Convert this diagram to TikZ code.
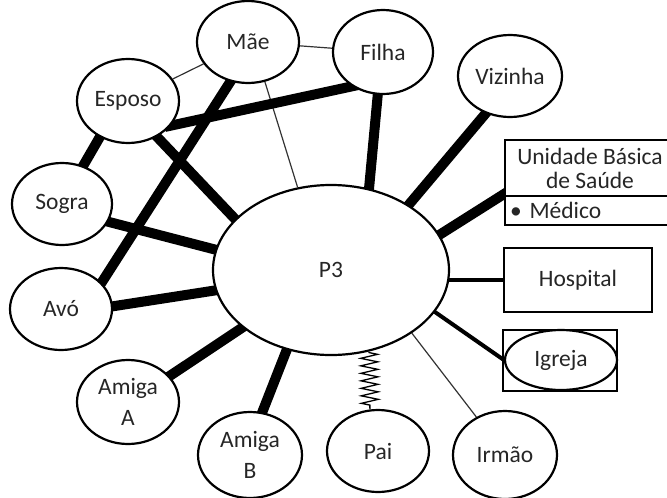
\documentclass[tikz,border=0pt]{standalone}
\usepackage{fontspec}
\setmainfont{Carlito}
\usetikzlibrary{shapes.geometric,decorations.pathmorphing,calc}
\pgfdeclarelayer{background}
\pgfsetlayers{background,main}
\begin{document}
\begin{tikzpicture}[x=1pt,y=-1pt,
  person/.style={ellipse,draw,line width=2.2pt,fill=white,inner sep=0pt,
    text=black!85,font=\fontsize{23.5}{31}\selectfont,align=center},
  place/.style={rectangle,draw,line width=2.2pt,fill=white,inner sep=0pt,
    text=black!85,font=\fontsize{23.5}{24}\selectfont,align=center},
  strong/.style={line width=10pt,shorten <=-6pt,shorten >=-6pt},
  medium/.style={line width=4pt,shorten <=-3pt,shorten >=-3pt},
  weak/.style={line width=1.2pt,draw=black!80},
  stress/.style={line width=1.3pt,decorate,
    decoration={zigzag,segment length=7.5pt,amplitude=8.5pt,pre length=1pt,post length=1pt}}]

\useasboundingbox (0,0) rectangle (667,498);

% people around the centre
\node[person,minimum width=236pt,minimum height=170pt] (p3) at (331,270) {P3};
\node[person,minimum width=102pt,minimum height=82pt] (mae) at (248,42) {Mãe};
\node[person,minimum width=100pt,minimum height=84pt] (filha) at (383,52) {Filha};
\node[person,minimum width=102pt,minimum height=84pt] (esposo) at (128,101) {Esposo};
\node[person,minimum width=104pt,minimum height=82pt] (vizinha) at (510,76) {Vizinha};
\node[person,minimum width=100pt,minimum height=82pt] (sogra) at (62,204) {Sogra};
\node[person,minimum width=102pt,minimum height=82pt] (avo) at (61,309) {Avó};
\node[person,minimum width=102pt,minimum height=84pt] (amigaA) at (128,402) {Amiga\\A};
\node[person,minimum width=104pt,minimum height=86pt] (amigaB) at (250,455) {Amiga\\B};
\node[person,minimum width=102pt,minimum height=82pt] (pai) at (378,451) {Pai};
\node[person,minimum width=104pt,minimum height=88pt] (irmao) at (505,455) {Irmão};

% institutions
\node[place,minimum width=170pt,minimum height=56pt] (ubs) at (590,168) {Unidade Básica\\de Saúde};
\node[place,minimum width=170pt,minimum height=29pt,text width=160pt,align=left] (med) at (590,210.5) {• Médico};
\node[place,minimum width=148pt,minimum height=64pt] (hosp) at (578,280) {Hospital};
\node[place,minimum width=114pt,minimum height=61pt,fill=none] (igbox) at (560,360.5) {};
\node[person,minimum width=112pt,minimum height=60pt] (igreja) at (561,360) {Igreja};

% ties
\begin{pgfonlayer}{background}
\draw[weak] (mae) -- (filha);
\draw[weak] (mae) -- (esposo);
\draw[weak] (mae.-67) -- (p3.112);
\draw[strong] (mae.-114) -- (avo.33);
\draw[strong] (esposo.-30) -- (filha.-132);
\draw[strong] (esposo.-51) -- (p3.152);
\draw[strong] (esposo.-128) -- (sogra.61);
\draw[strong] (filha.-97) -- (p3.65);
\draw[strong] (vizinha.-123) -- (p3.40);
\draw[strong] ($(ubs.south west)+(0,-3)$) -- (p3.18);
\draw[medium] (hosp.west) -- (p3.east |- hosp.west);
\draw[medium] (igreja.west) -- (p3.-22);
\draw[weak] (irmao.127) -- (p3.-38);
\draw[strong] (amigaB.74) -- (p3.-119);
\draw[strong] (amigaA.32) -- (p3.-147);
\draw[strong] (avo.3) -- (p3.-170);
\draw[strong] (sogra.-21) -- (p3.170);
\end{pgfonlayer}
\draw[stress] (p3.-65) -- (pai.101);
\end{tikzpicture}
\end{document}
